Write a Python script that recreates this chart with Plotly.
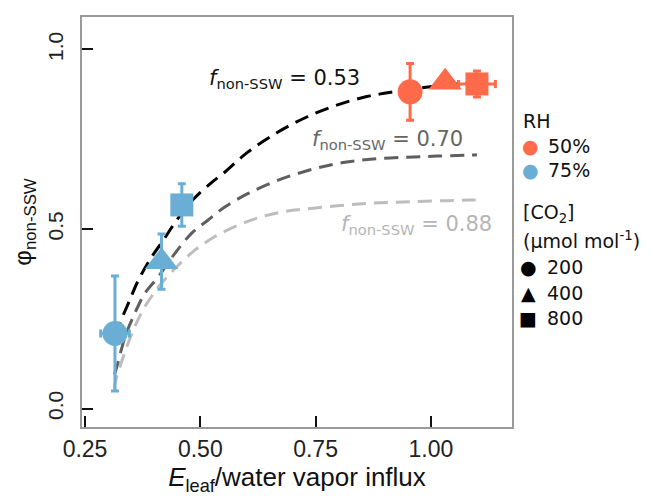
import plotly.graph_objects as go

# ---- data ----
rh50_x = [0.955, 1.031, 1.100]
rh50_y = [0.882, 0.909, 0.904]
rh50_yerr = [0.079, 0.012, 0.036]
rh50_xerr = [0.0, 0.0, 0.040]

rh75_x = [0.315, 0.416, 0.460]
rh75_y = [0.209, 0.409, 0.567]
rh75_yerr = [0.160, 0.077, 0.059]
rh75_xerr = [0.031, 0.0, 0.0]

co2_levels = ["200", "400", "800"]
symbols = ["circle", "triangle-up", "square"]

f053_x = [0.314, 0.322, 0.344, 0.366, 0.395, 0.420, 0.449, 0.485, 0.525, 0.550, 0.601, 0.666, 0.731, 0.796, 0.861, 0.918, 0.998, 1.070, 1.100]
f053_y = [0.205, 0.228, 0.293, 0.358, 0.423, 0.469, 0.525, 0.583, 0.630, 0.655, 0.712, 0.768, 0.812, 0.845, 0.869, 0.882, 0.896, 0.906, 0.908]

f070_x = [0.314, 0.319, 0.337, 0.358, 0.380, 0.409, 0.445, 0.481, 0.517, 0.554, 0.604, 0.669, 0.745, 0.810, 0.875, 0.948, 1.013, 1.085, 1.100]
f070_y = [0.095, 0.116, 0.200, 0.265, 0.321, 0.367, 0.432, 0.488, 0.525, 0.562, 0.599, 0.636, 0.667, 0.685, 0.695, 0.700, 0.703, 0.706, 0.707]

f088_x = [0.314, 0.315, 0.333, 0.355, 0.380, 0.413, 0.449, 0.489, 0.532, 0.583, 0.633, 0.684, 0.745, 0.818, 0.890, 0.962, 1.035, 1.089, 1.100]
f088_y = [0.055, 0.070, 0.144, 0.219, 0.284, 0.344, 0.395, 0.442, 0.479, 0.511, 0.534, 0.549, 0.558, 0.567, 0.573, 0.576, 0.579, 0.581, 0.581]

curve_labels = ["0.53", "0.70", "0.88"]
label_x = [0.682, 0.905, 0.968]
label_y = [0.918, 0.747, 0.510]

x_ticks = [0.25, 0.50, 0.75, 1.00]
x_ticktext = ["0.25", "0.50", "0.75", "1.00"]
y_ticks = [0.0, 0.5, 1.0]
y_ticktext = ["0.0", "0.5", "1.0"]

# ---- styles ----
ORANGE = "#FF6B4A"
BLUE = "#6AAED6"
curve_colors = ["#000000", "#5f5f5f", "#bdbdbd"]
label_colors = ["#111111", "#666666", "#b5b5b5"]
FONT = "DejaVu Sans"
AXFONT = "Liberation Sans"

# the page body adds an 8px offset; figure is sized so the plot lands where the reference has it
OFF = 8
W, H = 654 - OFF, 500 - OFF
L, R, T, B = 82 - OFF, 512 - OFF, 17 - OFF, 427 - OFF

fig = go.Figure()

for cx, cy, col in [(f053_x, f053_y, curve_colors[0]),
                    (f070_x, f070_y, curve_colors[1]),
                    (f088_x, f088_y, curve_colors[2])]:
    fig.add_trace(go.Scatter(x=cx, y=cy, mode="lines", line=dict(color=col, width=3, dash="14px,8px", shape="spline"),
                             showlegend=False, hoverinfo="skip"))

for xs, ys, ye, xe, col in [(rh75_x, rh75_y, rh75_yerr, rh75_xerr, BLUE),
                            (rh50_x, rh50_y, rh50_yerr, rh50_xerr, ORANGE)]:
    fig.add_trace(go.Scatter(
        x=xs, y=ys, mode="markers",
        marker=dict(symbol=symbols, size=[25, 29, 23], color=col, opacity=1, line=dict(width=0)),
        error_y=dict(type="data", array=ye, color=col, thickness=3, width=4),
        error_x=dict(type="data", array=xe, color=col, thickness=3, width=4),
        showlegend=False))

annotations = []
for lab, lx, ly, lc in zip(curve_labels, label_x, label_y, label_colors):
    annotations.append(dict(x=lx, y=ly, xref="x", yref="y", showarrow=False,
                            text="<i>f</i><sub>non-SSW</sub> = " + lab,
                            font=dict(family=FONT, size=21, color=lc),
                            xanchor="center", yanchor="middle"))

# legend built from text at fixed screen-pixel positions
def px(x):
    return (x - OFF - L) / (R - L)
def py(y):
    return (B - (y - OFF)) / (B - T)

leg_font = dict(family=FONT, size=19, color="#111111")
legend_lines = [
    (521, 121, "RH"),
    (521, 213, "[CO<sub>2</sub>]"),
    (521, 240, "(μmol mol<sup>-1</sup>)"),
]
for x, y, t in legend_lines:
    annotations.append(dict(x=px(x), y=py(y), xref="paper", yref="paper", showarrow=False, text=t,
                            font=leg_font, xanchor="left", yanchor="middle"))
rh_labels = ["50%", "75%"]
rh_colors = [ORANGE, BLUE]
rh_ypos = [146, 170]
for t, c, y in zip(rh_labels, rh_colors, rh_ypos):
    annotations.append(dict(x=px(530), y=py(y), xref="paper", yref="paper", showarrow=False, text="●",
                            font=dict(family=FONT, size=19, color=c), xanchor="center", yanchor="middle"))
    annotations.append(dict(x=px(546), y=py(y), xref="paper", yref="paper", showarrow=False, text=t,
                            font=leg_font, xanchor="left", yanchor="middle"))
co2_glyphs = ["●", "▲", "■"]
co2_ypos = [267, 293, 318]
for t, g, y in zip(co2_levels, co2_glyphs, co2_ypos):
    annotations.append(dict(x=px(528), y=py(y), xref="paper", yref="paper", showarrow=False, text=g,
                            font=dict(family=FONT, size=19, color="#000000"), xanchor="center", yanchor="middle"))
    annotations.append(dict(x=px(545), y=py(y), xref="paper", yref="paper", showarrow=False, text=t,
                            font=leg_font, xanchor="left", yanchor="middle"))

axis_common = dict(showline=True, linecolor="#9a9a9a", linewidth=1.5, mirror=True,
                   ticks="inside", tickcolor="#111111", tickwidth=2, ticklen=11,
                   showgrid=False, zeroline=False, automargin=False)

fig.update_layout(
    width=W, height=H,
    margin=dict(l=L, r=W - R, t=T, b=H - B, autoexpand=False),
    plot_bgcolor="white", paper_bgcolor="white",
    showlegend=False,
    annotations=annotations,
    xaxis=dict(range=[0.2435, 1.176], tickvals=x_ticks, ticktext=x_ticktext,
               ticklabelstandoff=1,
               tickfont=dict(family=AXFONT, size=23, color="#222222"),
               title=dict(text="<i>E</i><sub>leaf</sub>/water vapor influx",
                          font=dict(family=AXFONT, size=26, color="#111111"), standoff=4),
               **axis_common),
    yaxis=dict(range=[-0.0515, 1.0905], tickvals=y_ticks, ticktext=y_ticktext, tickangle=-90,
               ticklabelstandoff=9,
               tickfont=dict(family=AXFONT, size=21, color="#222222"),
               title=dict(text="φ<sub>non-SSW</sub>",
                          font=dict(family=AXFONT, size=24, color="#111111"), standoff=5),
               **axis_common),
)

fig.write_html("out.html")
